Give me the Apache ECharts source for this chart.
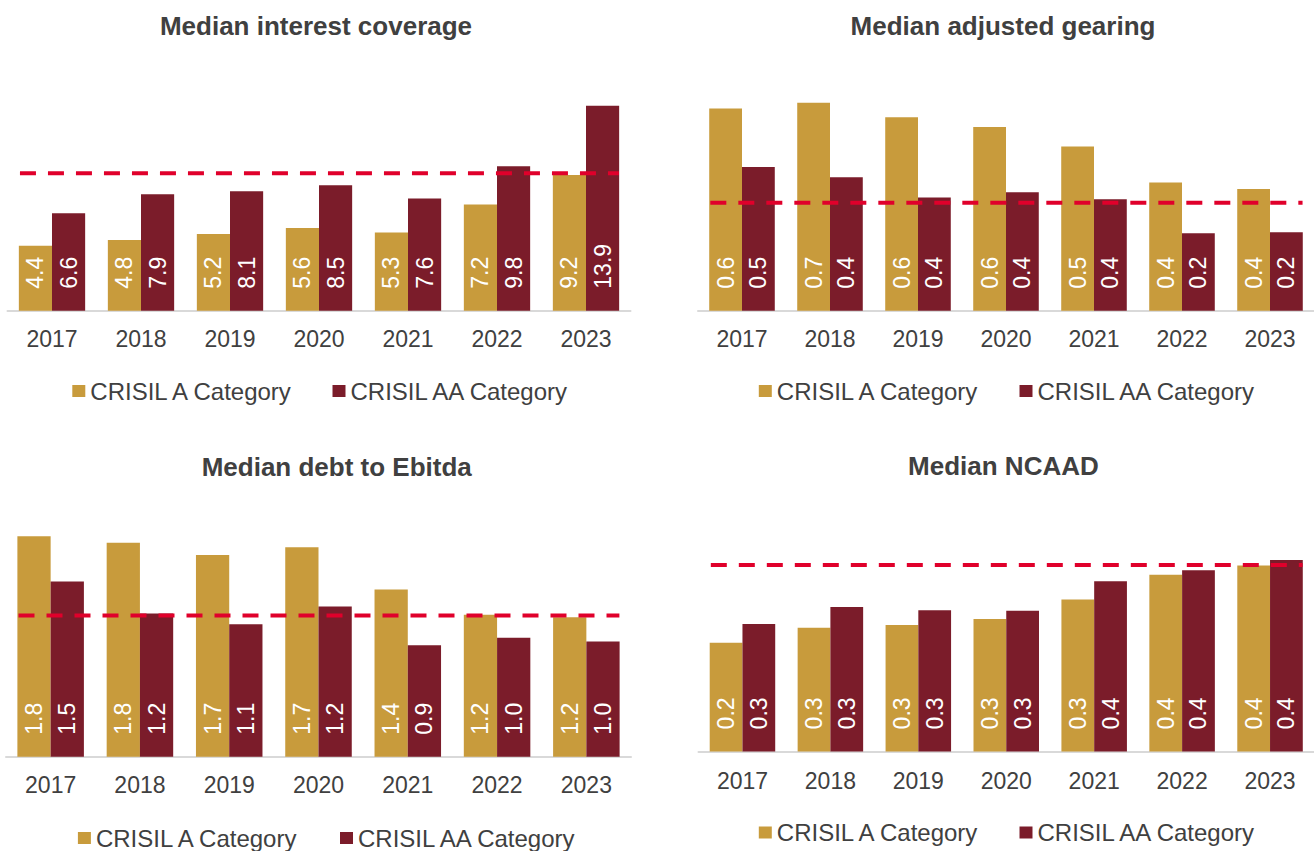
<!DOCTYPE html>
<html><head><meta charset="utf-8">
<script src="https://cdn.jsdelivr.net/npm/echarts@6/dist/echarts.min.js"></script>
<style>html,body{margin:0;padding:0;background:#fff}#c{width:1314px;height:851px}</style>
</head><body><div id="c"></div>
<script>
// ---------- data ----------
const categories = ['2017', '2018', '2019', '2020', '2021', '2022', '2023'];
const seriesNames = ['CRISIL A Category', 'CRISIL AA Category'];
const titles = ['Median interest coverage', 'Median adjusted gearing', 'Median debt to Ebitda', 'Median NCAAD'];

const coverageA  = [4.4, 4.8, 5.2, 5.6, 5.3, 7.2, 9.2];
const coverageAA = [6.6, 7.9, 8.1, 8.5, 7.6, 9.8, 13.9];
const coverageRef = 9.32;

const gearingA  = [0.640, 0.658, 0.612, 0.581, 0.520, 0.406, 0.385];
const gearingAA = [0.455, 0.422, 0.358, 0.375, 0.353, 0.245, 0.248];
const gearingRef = 0.342;

const debtEbitdaA  = [1.829, 1.774, 1.673, 1.737, 1.388, 1.177, 1.158];
const debtEbitdaAA = [1.454, 1.189, 1.100, 1.247, 0.925, 0.987, 0.956];
const debtEbitdaRef = 1.172;

const ncaadA  = [0.236, 0.269, 0.275, 0.288, 0.330, 0.384, 0.404];
const ncaadAA = [0.277, 0.314, 0.307, 0.306, 0.370, 0.394, 0.416];
const ncaadRef = 0.405;

// reference line extent in category units (first bar edge to last bar edge)
const refStart = -0.36, refEnd = 6.37;

// ---------- layout ----------
const panels = [
  {title: titles[0], a: coverageA, aa: coverageAA, ref: coverageRef, max: 16, plotH: 236, base: 310.7,
   left: 7.5, width: 623, titleX: 316, titleY: 26, legendX: [72.3, 332.5], legendY: 391, margin: 17},
  {title: titles[1], a: gearingA, aa: gearingAA, ref: gearingRef, max: 0.8, plotH: 252.8, base: 310.7,
   left: 698, width: 619, titleX: 1003, titleY: 26, legendX: [758.8, 1019.5], legendY: 391, margin: 17},
  {title: titles[2], a: debtEbitdaA, aa: debtEbitdaAA, ref: debtEbitdaRef, max: 2.0, plotH: 241.2, base: 756.8,
   left: 6, width: 625, titleX: 336.7, titleY: 467, legendX: [77.9, 340], legendY: 838, margin: 17},
  {title: titles[3], a: ncaadA, aa: ncaadAA, ref: ncaadRef, max: 0.5, plotH: 230, base: 751.4,
   left: 698.5, width: 618.5, titleX: 1003.4, titleY: 466, legendX: [758.8, 1019.5], legendY: 832.5, margin: 18}
];

const FONT = "'Liberation Sans', Arial, sans-serif";
const TXT = '#404040';
const COLORS = ['#C89B3C', '#7B1C2A'];
const COL_REF = '#E0002B';

const grids = [], xAxes = [], yAxes = [], series = [], legends = [], graphics = [];

panels.forEach((p, i) => {
  grids.push({left: p.left, width: p.width, top: p.base - p.plotH, height: p.plotH, containLabel: false});
  xAxes.push({
    type: 'category', gridIndex: i, data: categories,
    axisLine: {show: true, lineStyle: {color: '#D9D9D9', width: 2}},
    axisTick: {show: false}, splitLine: {show: false},
    axisLabel: {color: TXT, fontSize: 23, fontFamily: FONT, margin: p.margin}
  });
  yAxes.push({type: 'value', gridIndex: i, min: 0, max: p.max, show: false, splitLine: {show: false}});
});
panels.forEach((p, i) => {
  xAxes.push({type: 'value', gridIndex: i, min: -0.5, max: 6.5, show: false, splitLine: {show: false}});
});

panels.forEach((p, i) => {
  [p.a, p.aa].forEach((d, k) => {
    series.push({
      type: 'bar', name: seriesNames[k], xAxisIndex: i, yAxisIndex: i, data: d,
      barGap: '0%', barCategoryGap: '25.5%',
      itemStyle: {color: COLORS[k]},
      label: {
        show: true, position: 'insideBottom', rotate: 90, align: 'left', verticalAlign: 'middle',
        distance: 22, color: '#ffffff', fontSize: 23, fontFamily: FONT,
        formatter: q => Number(q.value).toFixed(1)
      },
      emphasis: {disabled: true}, silent: true
    });
  });
  series.push({
    type: 'line', xAxisIndex: 4 + i, yAxisIndex: i,
    data: [[refStart, p.ref], [refEnd, p.ref]],
    symbol: 'none', silent: true, z: 5,
    lineStyle: {color: COL_REF, width: 4, type: [16, 12], cap: 'butt'}
  });
  seriesNames.forEach((n, k) => {
    legends.push({
      data: [n], left: p.legendX[k], top: p.legendY - 12, padding: 0,
      itemWidth: 13, itemHeight: 12, icon: 'rect', selectedMode: false,
      textStyle: {color: TXT, fontSize: 24, fontFamily: FONT, lineHeight: 24}
    });
  });
  graphics.push({
    type: 'text', x: p.titleX, y: p.titleY, silent: true,
    style: {text: p.title, fill: TXT, fontSize: 26, fontWeight: 'bold', fontFamily: FONT,
            align: 'center', verticalAlign: 'middle'}
  });
});

const chart = echarts.init(document.getElementById('c'), null, {renderer: 'svg'});
chart.setOption({
  animation: false,
  backgroundColor: '#ffffff',
  grid: grids, xAxis: xAxes, yAxis: yAxes, series: series, legend: legends, graphic: graphics
});
</script>
</body></html>
